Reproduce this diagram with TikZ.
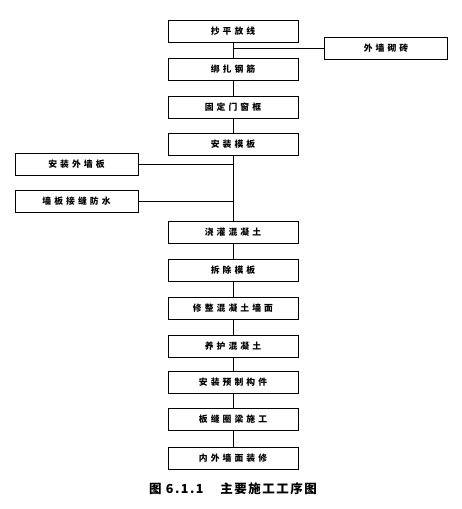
\documentclass[tikz,border=0pt]{standalone}
\usepackage{fontspec}
\newfontfamily\cjk[LetterSpace=12]{Noto Sans CJK SC}
\newfontfamily\cjkls[LetterSpace=35]{Noto Sans CJK SC}
\begin{document}
\begin{tikzpicture}[x=1pt,y=-1pt,
  box/.style={draw, line width=0.8pt, minimum width=130pt, minimum height=22pt, inner sep=0pt,
    font=\cjkls\fontsize{8.8}{10}\selectfont\bfseries},
  sidebox/.style={box, minimum width=123pt},
  conn/.style={line width=0.7pt}]
\useasboundingbox (0,0) rectangle (461,509);
\node[box] (b1) at (233,31.5) {抄平放线};
\node[box] (b2) at (233,69) {绑扎钢筋};
\node[box] (b3) at (233,107) {固定门窗框};
\node[box] (b4) at (233,144.5) {安装模板};
\node[box] (b5) at (233,232.5) {浇灌混凝土};
\node[box] (b6) at (233,270.5) {拆除模板};
\node[box] (b7) at (233,308.5) {修整混凝土墙面};
\node[box] (b8) at (233,346.5) {养护混凝土};
\node[box] (b9) at (233,382.5) {安装预制构件};
\node[box] (b10) at (233,419.5) {板缝圈梁施工};
\node[box] (b11) at (233,458) {内外墙面装修};
\node[sidebox] (s1) at (386,48) {外墙砌砖};
\node[sidebox] (s2) at (76.5,164.5) {安装外墙板};
\node[sidebox] (s3) at (76.5,201) {墙板接缝防水};
\foreach \a/\b in {b1/b2,b2/b3,b3/b4,b4/b5,b5/b6,b6/b7,b7/b8,b8/b9,b9/b10,b10/b11}
  \draw[conn] (\a.south) -- (\b.north);
\draw[conn] (s1.west) -- (s1.west -| b1.south);
\draw[conn] (s2.east) -- (s2.east -| b4.south);
\draw[conn] (s3.east) -- (s3.east -| b4.south);
\node[font=\cjk\fontsize{12.5}{14}\selectfont\bfseries] (cap) at (233,489) {图 6.1.1\quad\ 主要施工工序图};
\end{tikzpicture}
\end{document}
